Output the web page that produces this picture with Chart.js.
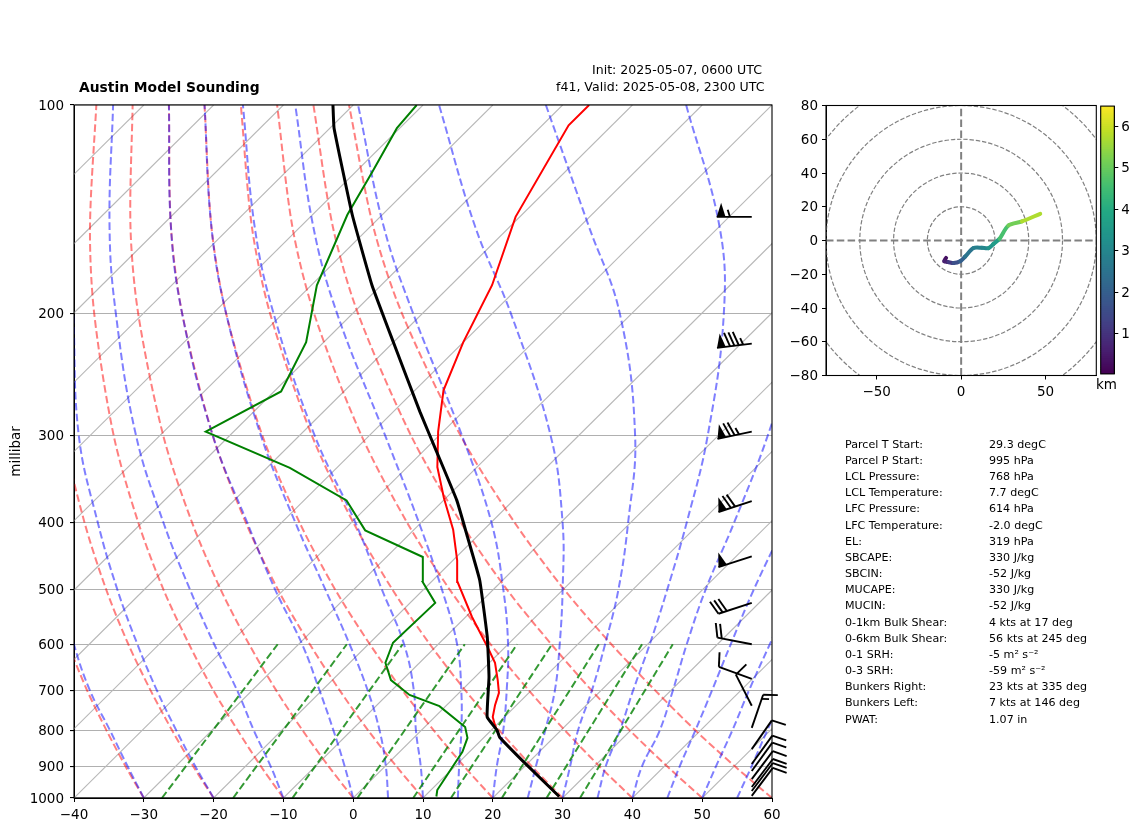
<!DOCTYPE html>
<html><head><meta charset="utf-8">
<script src="https://cdn.jsdelivr.net/npm/chart.js@4"></script>
<style>
html,body{margin:0;padding:0;background:#fff;width:1142px;height:832px;overflow:hidden}
canvas{position:absolute}
.t{position:absolute;font-family:'DejaVu Sans';color:#000;white-space:pre;line-height:1}
</style></head><body>
<canvas id="skew" style="left:0;top:0"></canvas>
<canvas id="hodo" style="left:780px;top:90px"></canvas>
<canvas id="cbar" style="left:1095px;top:95px"></canvas>
<div class="t" style="left:79px;top:80.5px;font-size:13.85px;font-weight:bold">Austin Model Sounding</div>
<div class="t" style="left:592px;top:63.7px;font-size:12.55px">Init: 2025-05-07, 0600 UTC</div>
<div class="t" style="left:556px;top:80.7px;font-size:12.55px">f41, Valid: 2025-05-08, 2300 UTC</div>
<div class="t" style="left:1096px;top:378px;font-size:13.5px">km</div>
<div id="table"></div>
<script>
// ---- axes
const xTicks = [-40,-30,-20,-10,0,10,20,30,40,50,60];
const yTicks = [100,200,300,400,500,600,700,800,900,1000];

// ---- sounding profiles (pressure hPa, temperature degC)
const tempP = [995,896,817,785,764,734,705,676,638,605,548,488,454,410,369,333,296,258,220,182,145,107,100];
const tempC = [29.3,20.1,12.2,9.8,8.3,6.9,5.7,3.7,0.8,-2.6,-9.1,-16.2,-19.4,-24.4,-30.3,-35.7,-40.7,-45.9,-50.0,-54.1,-60.6,-66.2,-66.2];
const dewP = [995,974,858,819,790,737,710,676,638,597,523,488,449,411,372,334,296,259,220,182,144,125,108,100];
const dewC = [11.7,10.9,9.0,7.7,5.8,-0.9,-6.8,-11.6,-14.9,-16.7,-16.4,-21.2,-24.8,-36.9,-43.9,-56.7,-74.0,-69.0,-72.5,-79.2,-85.0,-87.6,-90.4,-90.9];
const parcelP = [995,896,817,798,764,669,586,485,420,372,315,277,220,182,144,108,100];
const parcelC = [29.3,20.1,12.2,10.8,7.5,2.0,-4.0,-13.3,-21.3,-28.1,-38.3,-46.2,-60.0,-71.3,-84.3,-99.4,-102.9];

// ---- reference lines
const isotherms = [-130,-120,-110,-100,-90,-80,-70,-60,-50,-40,-30,-20,-10,0,10,20,30,40,50,60];
const refLevels = [1000,900,800,700,600,500,400,300,200,150,100];
const dryAdiabats = [
 [-30,-37.2,-45.0,-53.6,-63.0,-73.7,-86.0,-100.8,-119.6,-131.7,-147.2],
 [-20,-27.5,-35.6,-44.5,-54.4,-65.5,-78.3,-93.7,-113.3,-125.9,-142.0],
 [-10,-17.8,-26.2,-35.5,-45.7,-57.3,-70.6,-86.6,-107.0,-120.1,-136.8],
 [0,-8.1,-16.9,-26.5,-37.1,-49.1,-62.9,-79.5,-100.7,-114.3,-131.6],
 [10,1.6,-7.5,-17.4,-28.4,-40.9,-55.2,-72.4,-94.4,-108.5,-126.4],
 [20,11.3,1.9,-8.4,-19.8,-32.7,-47.5,-65.3,-88.1,-102.7,-121.3],
 [30,21.0,11.3,0.6,-11.2,-24.5,-39.8,-58.2,-81.8,-96.9,-116.1],
 [40,30.7,20.7,9.7,-2.5,-16.3,-32.1,-51.1,-75.5,-91.1,-110.9],
 [50,40.4,30.0,18.7,6.2,-8.1,-24.4,-44.0,-69.2,-85.3,-105.7],
 [60,50.1,39.4,27.8,14.8,0.1,-16.7,-36.9,-62.9,-79.5,-100.6]
];
const moistAdiabats = [
 [-30,-36.9,-44.5,-53.2,-62.2,-72],
 [-20,-27.2,-35,-43.6,-53.1,-63.9,-76.4,-91.6,-110],
 [-10,-16.4,-23.9,-32.1,-42.1,-53.5,-67,-83.4,-103.9,-117.3,-134.4],
 [0,-5.8,-12.5,-20.3,-29.5,-41.3,-55,-72.4,-94.4,-108.5,-126.4],
 [5,0.1,-5.9,-13.4,-22.7,-34.1,-48.1,-65.5,-88.1,-102.7,-121.3],
 [10,5.1,-0.7,-6.8,-14.9,-26,-39.5,-57.8,-81.3,-96.5,-115.8],
 [15,10.6,5.8,0,-7.3,-17.4,-30.4,-47.7,-72.2,-88.1,-108.3],
 [20,16,11.8,6.5,0,-8.6,-20,-36.7,-61.3,-78,-99.3],
 [25,21.6,17.8,13.4,7.4,-0.1,-9.8,-24,-47.3,-64.9,-87.7],
 [30,26.5,22.5,18.7,13.9,7.9,-0.4,-11.9,-31.7,-48.6,-72.4],
 [35,31.6,28.5,24.6,20.3,14.9,8,-1.5,-16.8,-29.9,-52.3],
 [40,36.8,34.2,30.3,25.6,20.4,14.8,7.1,-5],
 [45,42.2,39.3,35.9,31.9,27.3,22.2],
 [50,47.4,44.6,41.2,37.5,33.2],
 [55,52.5,49.6,46.4]
];
const mixLevels = [1000,600];
const mixingLines = [[-27.4,-33],[-17.2,-23.1],[-8.7,-15.1],[0.6,-6.2],[8.6,1.3],[14,6.3],[21.3,13],[27.7,19.2],[32.5,23.6]];

// ---- wind barbs
const barbP = [145,221,296,373,448,523,600,673,736,792,850,893,914,939,964,977,993];
const barbSpeed = [55,85,75,70,50,30,20,10,10,15,10,10,10,10,10,10,10];
const barbDir = [270,263,258,252,252,252,281,290,333,19,35,36,36,37,37,37,37];
const barbX = 57.1;

// ---- hodograph
const hodoU = [-8.9,-10,-7.5,-4.5,-0.6,2.4,7.3,12.3,16.2,19.2,22.7,28,36,46.8];
const hodoV = [-10.3,-12.3,-12.8,-13.4,-12.3,-9.5,-4.5,-4.3,-4.5,-2,1,8.9,11.3,15.8];
const hodoH = [0.05,0.3,0.6,1.1,1.6,2.0,2.5,2.8,3.0,3.4,3.6,4.6,5.1,5.7];
const hodoRings = [20,40,60,80,100];
const hodoXTicks = [-50,0,50];
const hodoYTicks = [-80,-60,-40,-20,0,20,40,60,80];
const cbarTicks = [1,2,3,4,5,6];

// ---- parameter table
const paramNames = ['Parcel T Start:','Parcel P Start:','LCL Pressure:','LCL Temperature:','LFC Pressure:','LFC Temperature:','EL:','SBCAPE:','SBCIN:','MUCAPE:','MUCIN:','0-1km Bulk Shear:','0-6km Bulk Shear:','0-1 SRH:','0-3 SRH:','Bunkers Right:','Bunkers Left:','PWAT:'];
const paramVals = ['29.3 degC','995 hPa','768 hPa','7.7 degC','614 hPa','-2.0 degC','319 hPa','330 J/kg','-52 J/kg','330 J/kg','-52 J/kg','4 kts at 17 deg','56 kts at 245 deg','-5 m\u00b2 s\u207b\u00b2','-59 m\u00b2 s\u207b\u00b2','23 kts at 335 deg','7 kts at 146 deg','1.07 in'];

const FONT = {family:"'DejaVu Sans'",size:13.5};
const minus = v => String(v).replace('-','\u2212');
const skewX = (t,p) => t + 100*Math.log10(1000/p);
const prof = (ps,ts) => ts.map((t,i)=>({x:skewX(t,ps[i]),y:ps[i]}));

const tb = document.getElementById('table');
paramNames.forEach((n,i)=>{
  const top = 438.8 + i*16.16;
  tb.insertAdjacentHTML('beforeend',`<div class="t" style="left:845px;top:${top}px;font-size:11.1px">${n}</div><div class="t" style="left:989px;top:${top}px;font-size:11.1px">${paramVals[i]}</div>`);
});

const frame = {id:'frame',afterDraw(c){const a=c.chartArea,x=c.ctx;x.save();x.strokeStyle='#000';x.lineWidth=1.1;x.strokeRect(a.left,a.top,a.right-a.left,a.bottom-a.top);x.restore();}};

function drawBarb(g,bx,by,spd,dir){
  const L=35,H=14,W=8.75,S=4.4;
  const a=dir*Math.PI/180;
  const uy={x:Math.sin(a),y:-Math.cos(a)};       // toward wind origin
  const ux={x:-uy.y,y:uy.x};                     // right of pole
  const P=(r,o)=>[bx+ux.x*r+uy.x*o,by+ux.y*r+uy.y*o];
  let s=Math.round(spd/5)*5,fl=Math.floor(s/50);s-=fl*50;let fu=Math.floor(s/10);s-=fu*10;const half=s>=5;
  g.beginPath();g.moveTo(bx,by);g.lineTo(...P(0,L));g.stroke();
  let off=L;
  for(let i=0;i<fl;i++){ if(off!==L)off+=S/2;
    g.beginPath();g.moveTo(...P(0,off));g.lineTo(...P(H,off-W/2));g.lineTo(...P(0,off-W));g.closePath();g.fill();
    off-=W+S;}
  for(let i=0;i<fu;i++){g.beginPath();g.moveTo(...P(0,off));g.lineTo(...P(H,off+W/2));g.stroke();off-=S;}
  if(half){if(off===L)off-=1.5*S;g.beginPath();g.moveTo(...P(0,off));g.lineTo(...P(H/2,off+W/4));g.stroke();}
}
const barbPlugin = {id:'barbs',afterDatasetsDraw(c){
  const i=c.data.datasets.findIndex(d=>d.label==='Wind barbs');
  const els=c.getDatasetMeta(i).data,g=c.ctx;
  g.save();g.strokeStyle='#000';g.fillStyle='#000';g.lineWidth=1.9;g.lineCap='butt';
  els.forEach((e,k)=>drawBarb(g,e.x,e.y,barbSpeed[k],barbDir[k]));
  g.restore();
}};

const ds=[];
const line=(label,data,color,width,dash,tension,order)=>ds.push({label,data,borderColor:color,borderWidth:width,borderDash:dash,tension,order,showLine:true,pointRadius:0,pointHoverRadius:0,fill:false});
isotherms.forEach(t=>line('Isotherm '+t,[{x:skewX(t,1000),y:1000},{x:skewX(t,100),y:100}],'#b8b8b8',1.1,[],0,50));
dryAdiabats.forEach((a,i)=>line('Dry adiabat '+i,prof(refLevels,a),'rgba(255,0,0,0.5)',2,[7.5,3.4],0.3,40));
moistAdiabats.forEach((a,i)=>line('Moist adiabat '+i,prof(refLevels,a),'rgba(0,0,255,0.5)',2,[7.5,3.4],0.4,39));
mixingLines.forEach((a,i)=>line('Mixing ratio '+i,prof(mixLevels,a),'rgba(0,128,0,0.8)',2,[7.5,3.4],0,38));
line('Temperature',prof(tempP,tempC),'#ff0000',2,[],0,3);
line('Dewpoint',prof(dewP,dewC),'#008000',2,[],0,2);
line('Parcel',prof(parcelP,parcelC),'#000000',3,[],0.1,1);
ds.push({label:'Wind barbs',data:barbP.map(p=>({x:barbX,y:p})),showLine:false,pointRadius:0,pointHoverRadius:0,clip:false,order:0});

const skewC=document.getElementById('skew');skewC.width=1142;skewC.height=832;
new Chart(skewC,{type:'scatter',data:{datasets:ds},plugins:[frame,barbPlugin],options:{
  responsive:false,animation:false,devicePixelRatio:1,events:[],
  layout:{autoPadding:false,padding:{top:105,right:370,left:0,bottom:0}},
  plugins:{legend:{display:false},tooltip:{enabled:false}},
  scales:{
    x:{type:'linear',min:-40,max:60,afterFit:s=>{s.height=34},afterBuildTicks:s=>{s.ticks=xTicks.map(v=>({value:v}))},
       border:{color:'#000'},grid:{drawOnChartArea:false,drawTicks:true,tickLength:4,tickColor:'#000'},
       ticks:{color:'#000',font:FONT,padding:5,maxRotation:0,autoSkip:false,callback:minus}},
    y:{type:'logarithmic',reverse:true,min:100,max:1000,afterFit:s=>{s.width=74},afterBuildTicks:s=>{s.ticks=yTicks.map(v=>({value:v}))},
       title:{display:true,text:'millibar',color:'#000',font:FONT,padding:{top:8,bottom:0}},
       border:{color:'#000'},grid:{color:'#b0b0b0',lineWidth:1.1,tickColor:'#000',tickLength:4},
       ticks:{color:'#000',font:FONT,padding:6,labelOffset:1,autoSkip:false,callback:v=>String(v)}}
  }}});

// ---- hodograph chart
const VIR=['#440154','#482475','#414487','#355f8d','#2a788e','#21918c','#22a884','#44bf70','#7ad151','#bddf26','#fde725'];
const CMIN=0.03,CMAX=6.49;
function viridis(h){
  const t=Math.min(1,Math.max(0,(h-CMIN)/(CMAX-CMIN)))*10,i=Math.min(9,Math.floor(t)),f=t-i;
  const c=s=>[1,3,5].map(k=>parseInt(s.substr(k,2),16));
  const a=c(VIR[i]),b=c(VIR[i+1]);
  return `rgb(${a.map((v,k)=>Math.round(v+(b[k]-v)*f)).join(',')})`;
}
const ringPlugin={id:'rings',beforeDatasetsDraw(c){
  const sx=c.scales.x,sy=c.scales.y,g=c.ctx,a=c.chartArea;
  g.save();g.beginPath();g.rect(a.left,a.top,a.right-a.left,a.bottom-a.top);g.clip();
  g.strokeStyle='#808080';g.lineWidth=1.2;g.setLineDash([4.4,1.9]);
  hodoRings.forEach(r=>{g.beginPath();g.ellipse(sx.getPixelForValue(0),sy.getPixelForValue(0),Math.abs(sx.getPixelForValue(r)-sx.getPixelForValue(0)),Math.abs(sy.getPixelForValue(r)-sy.getPixelForValue(0)),0,0,Math.PI*2);g.stroke();});
  g.restore();
}};
const hodoC=document.getElementById('hodo');hodoC.width=322;hodoC.height=310;
new Chart(hodoC,{type:'scatter',data:{datasets:[
  {label:'Hodograph',data:hodoU.map((u,i)=>({x:u,y:hodoV[i]})),showLine:true,pointRadius:0,borderWidth:4,borderCapStyle:'round',tension:0.3,borderColor:viridis(3),order:0,
   segment:{borderColor:c=>viridis(hodoH[c.p1DataIndex])}},
  {label:'u=0',data:[{x:0,y:-80},{x:0,y:80}],showLine:true,pointRadius:0,borderWidth:2,borderColor:'#808080',borderDash:[7.5,3.3],order:1},
  {label:'v=0',data:[{x:-80,y:0},{x:80,y:0}],showLine:true,pointRadius:0,borderWidth:2,borderColor:'#808080',borderDash:[7.5,3.3],order:1}
]},plugins:[ringPlugin,frame],options:{
  responsive:false,animation:false,devicePixelRatio:1,events:[],
  layout:{autoPadding:false,padding:{top:15.5,right:5.7,left:0,bottom:0}},
  plugins:{legend:{display:false},tooltip:{enabled:false}},
  scales:{
    x:{type:'linear',min:-80,max:80,afterFit:s=>{s.height=24.5},afterBuildTicks:s=>{s.ticks=hodoXTicks.map(v=>({value:v}))},
       border:{color:'#000'},grid:{drawOnChartArea:false,tickColor:'#000',tickLength:4},
       ticks:{color:'#000',font:FONT,padding:5,maxRotation:0,autoSkip:false,callback:minus}},
    y:{type:'linear',min:-80,max:80,afterFit:s=>{s.width=46},afterBuildTicks:s=>{s.ticks=hodoYTicks.map(v=>({value:v}))},
       border:{color:'#000'},grid:{drawOnChartArea:false,tickColor:'#000',tickLength:4},
       ticks:{color:'#000',font:FONT,padding:4,labelOffset:1,autoSkip:false,callback:minus}}
  }}});

// ---- colorbar chart
const bands=128,step=(CMAX-CMIN)/bands;
const bandLabels=Array.from({length:bands},(_,i)=>i);
const cbarC=document.getElementById('cbar');cbarC.width=47;cbarC.height=290;
new Chart(cbarC,{type:'bar',data:{labels:['h'],datasets:bandLabels.map(i=>({
  data:[[CMIN+i*step,CMIN+(i+1.3)*step]],backgroundColor:viridis(CMIN+(i+.5)*step),borderWidth:0,barPercentage:1,categoryPercentage:1,grouped:false,stack:'c'
}))},plugins:[frame],options:{
  responsive:false,animation:false,devicePixelRatio:1,events:[],
  layout:{autoPadding:false,padding:{top:10.5,left:5.7,right:0,bottom:9.5}},
  plugins:{legend:{display:false},tooltip:{enabled:false}},
  scales:{
    x:{display:false,stacked:false},
    y:{type:'linear',position:'right',min:CMIN,max:CMAX,stacked:false,afterFit:s=>{s.width=27.7},afterBuildTicks:s=>{s.ticks=cbarTicks.map(v=>({value:v}))},
       border:{color:'#000'},grid:{drawOnChartArea:false,tickColor:'#000',tickLength:4},
       ticks:{color:'#000',font:FONT,padding:3,labelOffset:1,autoSkip:false}}
  }}});
</script>
</body></html>
